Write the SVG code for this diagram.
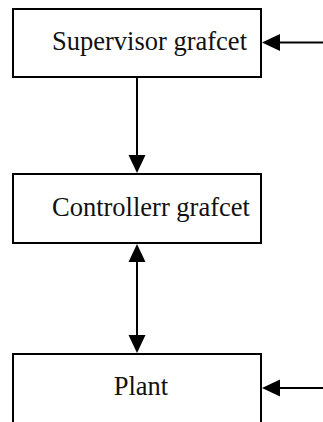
<svg xmlns="http://www.w3.org/2000/svg" width="323" height="422" viewBox="0 0 323 422">
  <style>
    .box { fill: #ffffff; stroke: #000000; stroke-width: 2; }
    .label { font-family: "Liberation Serif", "Times New Roman", serif; font-size: 26.5px; fill: #111111; }
    .wire { stroke: #000000; stroke-width: 2; fill: none; }
    .head { fill: #000000; }
  </style>
  <rect width="323" height="422" fill="#ffffff"/>

  <g id="supervisor">
    <rect class="box" x="13" y="9" width="248" height="68"/>
    <text class="label" x="52" y="50">Supervisor grafcet</text>
  </g>

  <g id="controller">
    <rect class="box" x="13" y="174" width="248" height="69"/>
    <text class="label" x="52" y="216">Controllerr grafcet</text>
  </g>

  <g id="plant">
    <path class="box" d="M13,430 V354 H261 V430"/>
    <text class="label" x="141" y="395" text-anchor="middle">Plant</text>
  </g>

  <g id="connectors">
    <!-- external input into the supervisor -->
    <line class="wire" x1="323" y1="42.5" x2="278" y2="42.5"/>
    <polygon class="head" points="262,42.5 280,34 280,51"/>
    <!-- supervisor to controller -->
    <line class="wire" x1="137" y1="77" x2="137" y2="157"/>
    <polygon class="head" points="137,173 128.5,155 145.5,155"/>
    <!-- controller to plant, both ways -->
    <line class="wire" x1="137" y1="260" x2="137" y2="336"/>
    <polygon class="head" points="137,244 128.5,262 145.5,262"/>
    <polygon class="head" points="137,353 128.5,335 145.5,335"/>
    <!-- external input into the plant -->
    <line class="wire" x1="323" y1="388" x2="278" y2="388"/>
    <polygon class="head" points="262,388 280,379.5 280,396.5"/>
  </g>
</svg>
